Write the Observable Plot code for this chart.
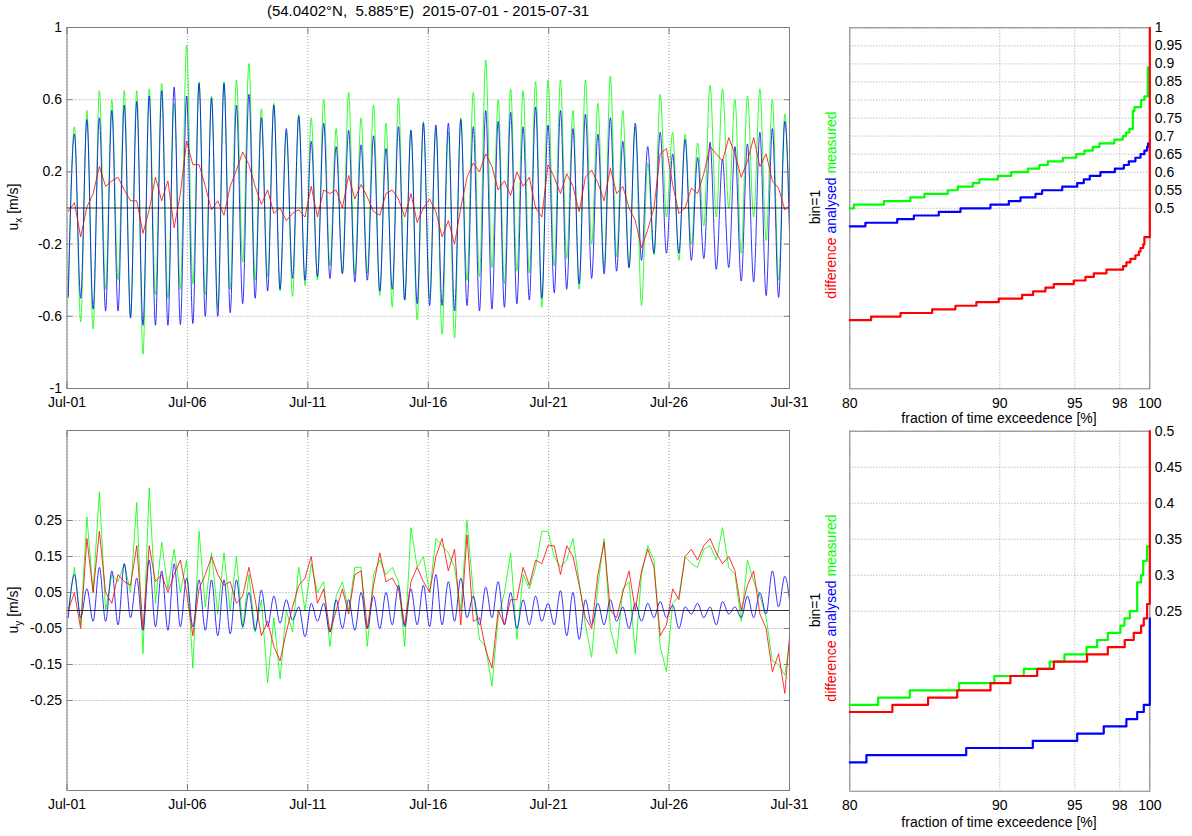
<!DOCTYPE html>
<html>
<head>
<meta charset="utf-8">
<script src="https://cdn.jsdelivr.net/npm/d3@7"></script>
<script src="https://cdn.jsdelivr.net/npm/@observablehq/plot@0.6"></script>
<style>
  body { margin: 0; background: #fff; }
  #page { position: relative; width: 1192px; height: 836px; overflow: hidden; background: #fff; }
</style>
</head>
<body>
<div id="page"></div>
<script>
// ---- time axis: samples every 6.21 h (half an M2 tide) starting Jul-01 01:12 UTC ----
const periodStart = "2015-07-01";
const periodEnd = "2015-07-31";
const sampleStartHour = 1.2;
const sampleStepHours = 6.21;
const dateTicks = ["2015-07-01", "2015-07-06", "2015-07-11", "2015-07-16", "2015-07-21", "2015-07-26", "2015-07-31"];

// ---- u_x [m/s] ----
const uxAnalysed = [
  -0.49, 0.41, -0.50, 0.49, -0.56, 0.50, -0.57, 0.54, -0.57, 0.57,
  -0.61, 0.59, -0.65, 0.62, -0.65, 0.65, -0.65, 0.67, -0.645, 0.62,
  -0.64, 0.69, -0.60, 0.61, -0.60, 0.69, -0.58, 0.57, -0.53, 0.63,
  -0.50, 0.50, -0.46, 0.57, -0.45, 0.44, -0.39, 0.51, -0.40, 0.37,
  -0.38, 0.47, -0.39, 0.34, -0.365, 0.43, -0.41, 0.35, -0.40, 0.40,
  -0.46, 0.33, -0.45, 0.45, -0.51, 0.43, -0.53, 0.47, -0.54, 0.46,
  -0.54, 0.47, -0.57, 0.49, -0.54, 0.45, -0.57, 0.54, -0.56, 0.48,
  -0.55, 0.53, -0.53, 0.45, -0.51, 0.56, -0.50, 0.46, -0.47, 0.54,
  -0.45, 0.44, -0.42, 0.52, -0.39, 0.41, -0.365, 0.50, -0.35, 0.37,
  -0.33, 0.47, -0.29, 0.34, -0.25, 0.42, -0.25, 0.30, -0.25, 0.38,
  -0.29, 0.28, -0.28, 0.365, -0.34, 0.27, -0.33, 0.34, -0.405, 0.355,
  -0.41, 0.42, -0.485, 0.44, -0.495, 0.48, -0.50
];
const uxMeasured = [
  -0.50, 0.45, -0.63, 0.54, -0.67, 0.65, -0.45, 0.60, -0.40, 0.65,
  -0.60, 0.65, -0.81, 0.66, -0.48, 0.69, -0.50, 0.58, -0.45, 0.90,
  -0.42, 0.70, -0.48, 0.62, -0.55, 0.70, -0.45, 0.71, -0.30, 0.80,
  -0.40, 0.55, -0.38, 0.58, -0.46, 0.42, -0.49, 0.52, -0.43, 0.50,
  -0.40, 0.60, -0.32, 0.44, -0.36, 0.64, -0.37, 0.50, -0.36, 0.57,
  -0.485, 0.47, -0.55, 0.61, -0.51, 0.43, -0.62, 0.48, -0.50, 0.44,
  -0.70, 0.42, -0.72, 0.50, -0.40, 0.64, -0.38, 0.82, -0.33, 0.60,
  -0.42, 0.66, -0.35, 0.65, -0.36, 0.70, -0.55, 0.71, -0.32, 0.71,
  -0.28, 0.54, -0.45, 0.71, -0.20, 0.58, -0.33, 0.73, -0.27, 0.54,
  -0.33, 0.45, -0.54, 0.25, -0.26, 0.63, -0.05, 0.42, -0.29, 0.41,
  -0.20, 0.36, -0.10, 0.68, -0.05, 0.66, 0.00, 0.60, -0.25, 0.62,
  -0.05, 0.66, -0.18, 0.60, -0.40, 0.52, -0.45
];
const uxDifference = [
  -0.02, 0.03, -0.16, 0.005, 0.08, 0.23, 0.12, 0.15, 0.17, 0.10,
  0.04, 0.04, -0.14, -0.01, 0.17, 0.04, 0.15, -0.11, 0.08, 0.37,
  0.24, 0.24, 0.12, -0.01, 0.04, -0.04, 0.12, 0.21, 0.31, 0.24,
  0.12, 0.02, 0.10, -0.03, 0.00, -0.07, -0.03, -0.01, -0.05, 0.12,
  -0.05, 0.10, 0.08, 0.10, 0.00, 0.18, 0.05, 0.13, 0.06, -0.02,
  -0.04, 0.08, 0.10, 0.05, -0.05, 0.08, -0.08, 0.00, 0.05, -0.02,
  -0.16, -0.07, -0.20, 0.00, 0.17, 0.25, 0.20, 0.30, 0.23, 0.10,
  0.15, 0.07, 0.20, 0.12, 0.17, 0.00, -0.05, 0.24, 0.17, 0.08,
  0.19, 0.12, -0.02, 0.17, 0.21, 0.14, 0.04, 0.22, 0.08, 0.12,
  0.00, -0.07, -0.22, -0.12, 0.00, 0.30, 0.33, 0.13, -0.03, 0.00,
  0.11, 0.08, 0.19, 0.34, 0.30, 0.26, 0.39, 0.30, 0.17, 0.26,
  0.39, 0.23, 0.30, 0.15, 0.11, -0.01, 0.02
];

// ---- u_y [m/s] ----
const uyAnalysed = [
  -0.02, 0.10, -0.02, 0.06, -0.03, 0.12, -0.03, 0.11, -0.04, 0.13,
  -0.02, 0.09, -0.055, 0.14, -0.045, 0.11, -0.055, 0.13, -0.045, 0.09,
  -0.045, 0.085, -0.055, 0.085, -0.07, 0.085, -0.065, 0.085, -0.045, 0.05,
  -0.055, 0.057, -0.045, 0.04, -0.035, 0.03, -0.027, 0.01, -0.073, 0.02,
  -0.03, 0.02, -0.06, 0.03, -0.05, 0.03, -0.055, 0.05, -0.05, 0.04,
  -0.05, 0.05, -0.04, 0.07, -0.045, 0.06, -0.04, 0.07, -0.045, 0.10,
  -0.04, 0.08, -0.03, 0.09, -0.02, 0.04, -0.04, 0.065, -0.02, 0.08,
  -0.04, 0.05, -0.05, 0.03, -0.04, 0.04, -0.03, 0.02, -0.04, 0.055,
  -0.07, 0.05, -0.08, 0.03, -0.04, 0.02, -0.04, 0.03, -0.03, 0.01,
  -0.05, 0.02, -0.03, 0.02, -0.02, 0.025, -0.02, 0.015, -0.05, 0.01,
  -0.01, 0.02, -0.02, 0.01, -0.04, 0.025, -0.01, 0.01, -0.02, 0.04,
  -0.02, 0.05, -0.01, 0.11, 0.01, 0.095, -0.01
];
const uyMeasured = [
  0.00, 0.12, -0.04, 0.26, 0.05, 0.33, 0.00, 0.10, 0.08, 0.13,
  0.05, 0.30, -0.12, 0.34, 0.02, 0.19, 0.06, 0.17, 0.05, 0.14,
  -0.16, 0.22, 0.01, 0.16, -0.01, 0.16, 0.00, 0.15, -0.05, 0.10,
  -0.06, 0.03, -0.20, -0.02, -0.19, 0.00, -0.06, 0.12, 0.00, 0.13,
  0.05, 0.08, -0.10, 0.04, 0.08, 0.00, 0.12, 0.12, -0.10, 0.10,
  0.14, 0.10, 0.12, 0.08, -0.10, 0.23, 0.12, 0.15, 0.05, 0.20,
  0.18, 0.16, 0.12, 0.00, 0.25, 0.05, -0.08, -0.10, -0.21, -0.02,
  0.05, 0.16, -0.08, 0.10, 0.06, 0.12, 0.22, 0.22, 0.15, 0.12,
  0.14, 0.20, 0.08, -0.04, -0.13, 0.07, 0.20, -0.05, -0.12, 0.06,
  0.08, -0.12, 0.10, 0.18, 0.14, -0.10, -0.17, 0.02, 0.04, 0.15,
  0.13, 0.12, 0.17, 0.18, 0.14, 0.23, 0.12, 0.10, -0.03, 0.14,
  0.08, 0.04, -0.02, -0.14, -0.15, -0.18, -0.06
];
const uyDifference = [
  0.00, 0.05, -0.05, 0.20, 0.05, 0.22, 0.05, 0.02, 0.10, 0.08,
  0.07, 0.18, -0.05, 0.18, 0.08, 0.10, 0.05, 0.10, 0.14, 0.05,
  -0.07, 0.06, 0.10, 0.15, 0.10, 0.07, 0.08, 0.02, 0.04, 0.12,
  0.03, -0.07, -0.03, -0.10, -0.14, -0.06, 0.01, 0.07, 0.09, 0.15,
  0.02, 0.06, -0.06, 0.00, 0.06, -0.01, 0.10, 0.11, -0.05, 0.07,
  0.16, 0.08, 0.09, 0.06, -0.04, 0.08, 0.12, 0.08, 0.05, 0.15,
  0.20, 0.11, 0.17, -0.04, 0.21, -0.03, -0.02, -0.11, -0.16, 0.00,
  -0.04, 0.03, 0.03, 0.12, 0.07, 0.14, 0.13, 0.18, 0.18, 0.10,
  0.18, 0.15, 0.07, -0.02, -0.05, 0.10, 0.19, 0.00, -0.02, 0.05,
  0.11, 0.00, 0.11, 0.17, 0.12, -0.07, -0.04, 0.06, 0.03, 0.15,
  0.17, 0.14, 0.18, 0.20, 0.16, 0.13, 0.15, 0.11, 0.00, 0.07,
  0.11, -0.01, -0.05, -0.17, -0.12, -0.23, -0.02
];

// ---- exceedance curves (bin = 0.01 m/s): percent where each level starts ----
const pctTicks = [80, 90, 95, 98, 100];
const uxExceedTicks = [0.5, 0.55, 0.6, 0.65, 0.7, 0.75, 0.8, 0.85, 0.9, 0.95, 1];
const uyExceedTicks = [0.25, 0.3, 0.35, 0.4, 0.45, 0.5];

const uxMeasuredPct = [80, 80.27, 82.27, 84.04, 84.98, 86.53, 87.2, 88.2, 88.64, 89.87, 90.76, 91.87, 92.64, 93.2, 94.2, 95.1, 95.64, 96.2, 96.64, 97.64, 98.2, 98.42, 98.64, 98.87, 98.98, 99.42, 99.64, 99.87, 100];
const uxMeasuredLevel = [0.50, 0.51, 0.52, 0.53, 0.54, 0.55, 0.56, 0.57, 0.58, 0.59, 0.60, 0.61, 0.62, 0.63, 0.64, 0.65, 0.66, 0.67, 0.68, 0.69, 0.70, 0.71, 0.72, 0.77, 0.78, 0.80, 0.81, 0.89, 0.89];
const uxAnalysedPct = [80, 81.04, 83.16, 84.27, 85.93, 87.38, 89.38, 90.6, 91.38, 92.38, 92.82, 94.16, 95.16, 95.6, 96.0, 96.71, 97.67, 98.27, 98.6, 99.04, 99.38, 99.64, 99.82, 99.89, 100];
const uxAnalysedLevel = [0.45, 0.46, 0.47, 0.48, 0.49, 0.50, 0.51, 0.52, 0.53, 0.54, 0.55, 0.56, 0.57, 0.58, 0.59, 0.60, 0.61, 0.62, 0.63, 0.64, 0.65, 0.66, 0.67, 0.68, 0.68];
const uxDifferencePct = [80, 81.42, 83.38, 85.49, 87.04, 88.44, 89.93, 91.49, 92.22, 93.04, 93.6, 94.93, 95.71, 96.27, 97.11, 98.22, 98.44, 98.71, 99.04, 99.27, 99.38, 99.56, 99.64, 100];
const uxDifferenceLevel = [0.19, 0.20, 0.21, 0.22, 0.23, 0.24, 0.25, 0.26, 0.27, 0.28, 0.29, 0.30, 0.31, 0.32, 0.33, 0.34, 0.35, 0.36, 0.37, 0.38, 0.39, 0.40, 0.42, 1.0];

const uyMeasuredPct = [80, 81.89, 84.0, 87.29, 89.64, 91.6, 93.33, 94.31, 95.78, 96.49, 97.2, 98.04, 98.31, 98.67, 99.16, 99.42, 99.56, 99.82, 100];
const uyMeasuredLevel = [0.12, 0.13, 0.14, 0.15, 0.16, 0.17, 0.18, 0.19, 0.20, 0.21, 0.22, 0.23, 0.24, 0.25, 0.29, 0.30, 0.32, 0.34, 0.34];
const uyAnalysedPct = [80, 81.11, 87.76, 92.2, 95.16, 96.93, 98.44, 99.16, 99.6, 100];
const uyAnalysedLevel = [0.04, 0.05, 0.06, 0.07, 0.08, 0.09, 0.10, 0.11, 0.12, 0.24];
const uyDifferencePct = [80, 82.84, 85.22, 87.16, 89.38, 90.71, 92.49, 93.6, 95.82, 97.2, 98.33, 98.93, 99.42, 99.6, 99.82, 100];
const uyDifferenceLevel = [0.11, 0.12, 0.13, 0.14, 0.15, 0.16, 0.17, 0.18, 0.19, 0.20, 0.21, 0.22, 0.23, 0.24, 0.26, 0.50];

// ---- colours and styles ----
const cMeasured = "#00ff00";
const cAnalysed = "#0000ff";
const cDifference = "#ff0000";
const axisGrey = "#7f7f7f";
const gridGrey = "#a0a0a0";
const FONT = "'Liberation Sans', Arial, Helvetica, sans-serif";

const utc = s => new Date(s + "T00:00:00Z");
const t0 = utc(periodStart).getTime();
const timeDomain = [utc(periodStart), utc(periodEnd)];
const dateTickDates = dateTicks.map(utc);
const fmtDay = d3.utcFormat("%b-%d");
const fmtNum = d => String(+(+d).toFixed(2));

function timeRows(values) {
  return values.map((v, i) => ({t: new Date(t0 + (sampleStartHour + i * sampleStepHours) * 3600e3), v}));
}
function stepRows(pct, level) {
  return pct.map((p, i) => ({p, v: level[i]}));
}

const page = document.getElementById("page");
function place(svg, left, top) {
  svg.style.position = "absolute";
  svg.style.left = left + "px";
  svg.style.top = top + "px";
  page.appendChild(svg);
}

const baseStyle = {fontFamily: FONT, fontSize: "14px", background: "transparent", overflow: "visible", color: "#000"};
const gridStyle = {stroke: gridGrey, strokeOpacity: 1, strokeDasharray: "1,2", strokeWidth: 1};

function seriesPanel({yDomain, yTicks, measured, analysed, difference, measuredCurve, height, marginTop, marginBottom}) {
  return Plot.plot({
    width: 800, height, marginLeft: 66.5, marginRight: 11, marginTop, marginBottom,
    style: baseStyle,
    x: {type: "utc", domain: timeDomain},
    y: {domain: yDomain},
    marks: [
      Plot.gridX(dateTickDates, gridStyle),
      Plot.gridY(yTicks, gridStyle),
      Plot.line(timeRows(measured), {x: "t", y: "v", stroke: cMeasured, strokeWidth: 0.8, curve: measuredCurve, clip: true}),
      Plot.line(timeRows(analysed), {x: "t", y: "v", stroke: cAnalysed, strokeWidth: 0.8, curve: "monotone-x", clip: true}),
      Plot.line(timeRows(difference), {x: "t", y: "v", stroke: cDifference, strokeWidth: 0.8, curve: "linear", clip: true}),
      Plot.ruleY([0], {stroke: "#000", strokeWidth: 0.8}),
      Plot.frame({stroke: axisGrey}),
      Plot.axisX(dateTickDates, {anchor: "bottom", tickSize: 0, tickPadding: 9, tickFormat: fmtDay, label: null}),
      Plot.axisX(dateTickDates, {anchor: "bottom", tickSize: -6, tickFormat: () => "", label: null, stroke: axisGrey}),
      Plot.axisX(dateTickDates, {anchor: "top", tickSize: -6, tickFormat: () => "", label: null, stroke: axisGrey}),
      Plot.axisY(yTicks, {anchor: "left", tickSize: 0, tickPadding: 5, tickFormat: fmtNum, label: null}),
      Plot.axisY(yTicks, {anchor: "left", tickSize: -6, tickFormat: () => "", label: null, stroke: axisGrey}),
      Plot.axisY(yTicks, {anchor: "right", tickSize: -6, tickFormat: () => "", label: null, stroke: axisGrey})
    ]
  });
}

function exceedPanel({yDomain, yTicks, curves, height, marginTop, marginBottom}) {
  return Plot.plot({
    width: 392, height, marginLeft: 49.3, marginRight: 42.7, marginTop, marginBottom,
    style: baseStyle,
    x: {domain: [80, 100]},
    y: {domain: yDomain},
    marks: [
      Plot.gridX(pctTicks, gridStyle),
      Plot.gridY(yTicks, gridStyle),
      Plot.frame({stroke: axisGrey}),
      ...curves.map(([rows, color]) =>
        Plot.line(rows, {x: "p", y: "v", stroke: color, strokeWidth: 2.2, curve: "step-after"})),
      Plot.axisX(pctTicks, {anchor: "bottom", tickSize: 0, tickPadding: 9, label: null}),
      Plot.axisY(yTicks, {anchor: "right", tickSize: 0, tickPadding: 5, tickFormat: fmtNum, label: null})
    ]
  });
}

// top row: u_x
place(seriesPanel({
  yDomain: [-1, 1], yTicks: [-1, -0.6, -0.2, 0.2, 0.6, 1],
  measured: uxMeasured, analysed: uxAnalysed, difference: uxDifference, measuredCurve: "monotone-x",
  height: 420, marginTop: 27, marginBottom: 32
}), 0, 0);

place(exceedPanel({
  yDomain: [0, 1], yTicks: uxExceedTicks,
  curves: [
    [stepRows(uxMeasuredPct, uxMeasuredLevel), cMeasured],
    [stepRows(uxAnalysedPct, uxAnalysedLevel), cAnalysed],
    [stepRows(uxDifferencePct, uxDifferenceLevel), cDifference]
  ],
  height: 420, marginTop: 27.3, marginBottom: 31.7
}), 800, 0);

// bottom row: u_y
place(seriesPanel({
  yDomain: [-0.5, 0.5], yTicks: [-0.25, -0.15, -0.05, 0.05, 0.15, 0.25],
  measured: uyMeasured, analysed: uyAnalysed, difference: uyDifference, measuredCurve: "linear",
  height: 436, marginTop: 30, marginBottom: 46
}), 0, 400);

place(exceedPanel({
  yDomain: [0, 0.5], yTicks: uyExceedTicks,
  curves: [
    [stepRows(uyMeasuredPct, uyMeasuredLevel), cMeasured],
    [stepRows(uyAnalysedPct, uyAnalysedLevel), cAnalysed],
    [stepRows(uyDifferencePct, uyDifferenceLevel), cDifference]
  ],
  height: 436, marginTop: 30.7, marginBottom: 45.3
}), 800, 400);

// titles and axis names
const ov = d3.select(page).append("svg")
  .attr("width", 1192).attr("height", 836)
  .style("position", "absolute").style("left", "0px").style("top", "0px")
  .style("pointer-events", "none")
  .style("font-family", FONT).style("font-size", "14px");

ov.append("text")
  .attr("x", 428).attr("y", 16).attr("text-anchor", "middle")
  .attr("font-size", "15px")
  .style("white-space", "pre")
  .text("(54.0402°N,  5.885°E)  2015-07-01 - 2015-07-31");

function componentLabel(cy, sub) {
  const t = ov.append("text")
    .attr("transform", `translate(18,${cy}) rotate(-90)`)
    .attr("text-anchor", "middle");
  t.append("tspan").text("u");
  t.append("tspan").attr("font-size", "10px").attr("dy", 4).text(sub);
  t.append("tspan").attr("dy", -4).style("white-space", "pre").text(" [m/s]");
}
componentLabel(207, "x");
componentLabel(610, "y");

function legendLabel(cy) {
  ov.append("text")
    .attr("transform", `translate(819.5,${cy}) rotate(-90)`)
    .attr("text-anchor", "middle").text("bin=1");
  const t = ov.append("text")
    .attr("transform", `translate(836,${cy - 2}) rotate(-90)`)
    .attr("text-anchor", "middle").style("white-space", "pre");
  t.append("tspan").attr("fill", cDifference).text("difference ");
  t.append("tspan").attr("fill", cAnalysed).text("analysed ");
  t.append("tspan").attr("fill", cMeasured).text("measured");
}
legendLabel(207);
legendLabel(610);

function exceedTitle(y) {
  ov.append("text").attr("x", 999).attr("y", y).attr("text-anchor", "middle")
    .text("fraction of time exceedence [%]");
}
exceedTitle(423);
exceedTitle(827);
</script>
</body>
</html>
